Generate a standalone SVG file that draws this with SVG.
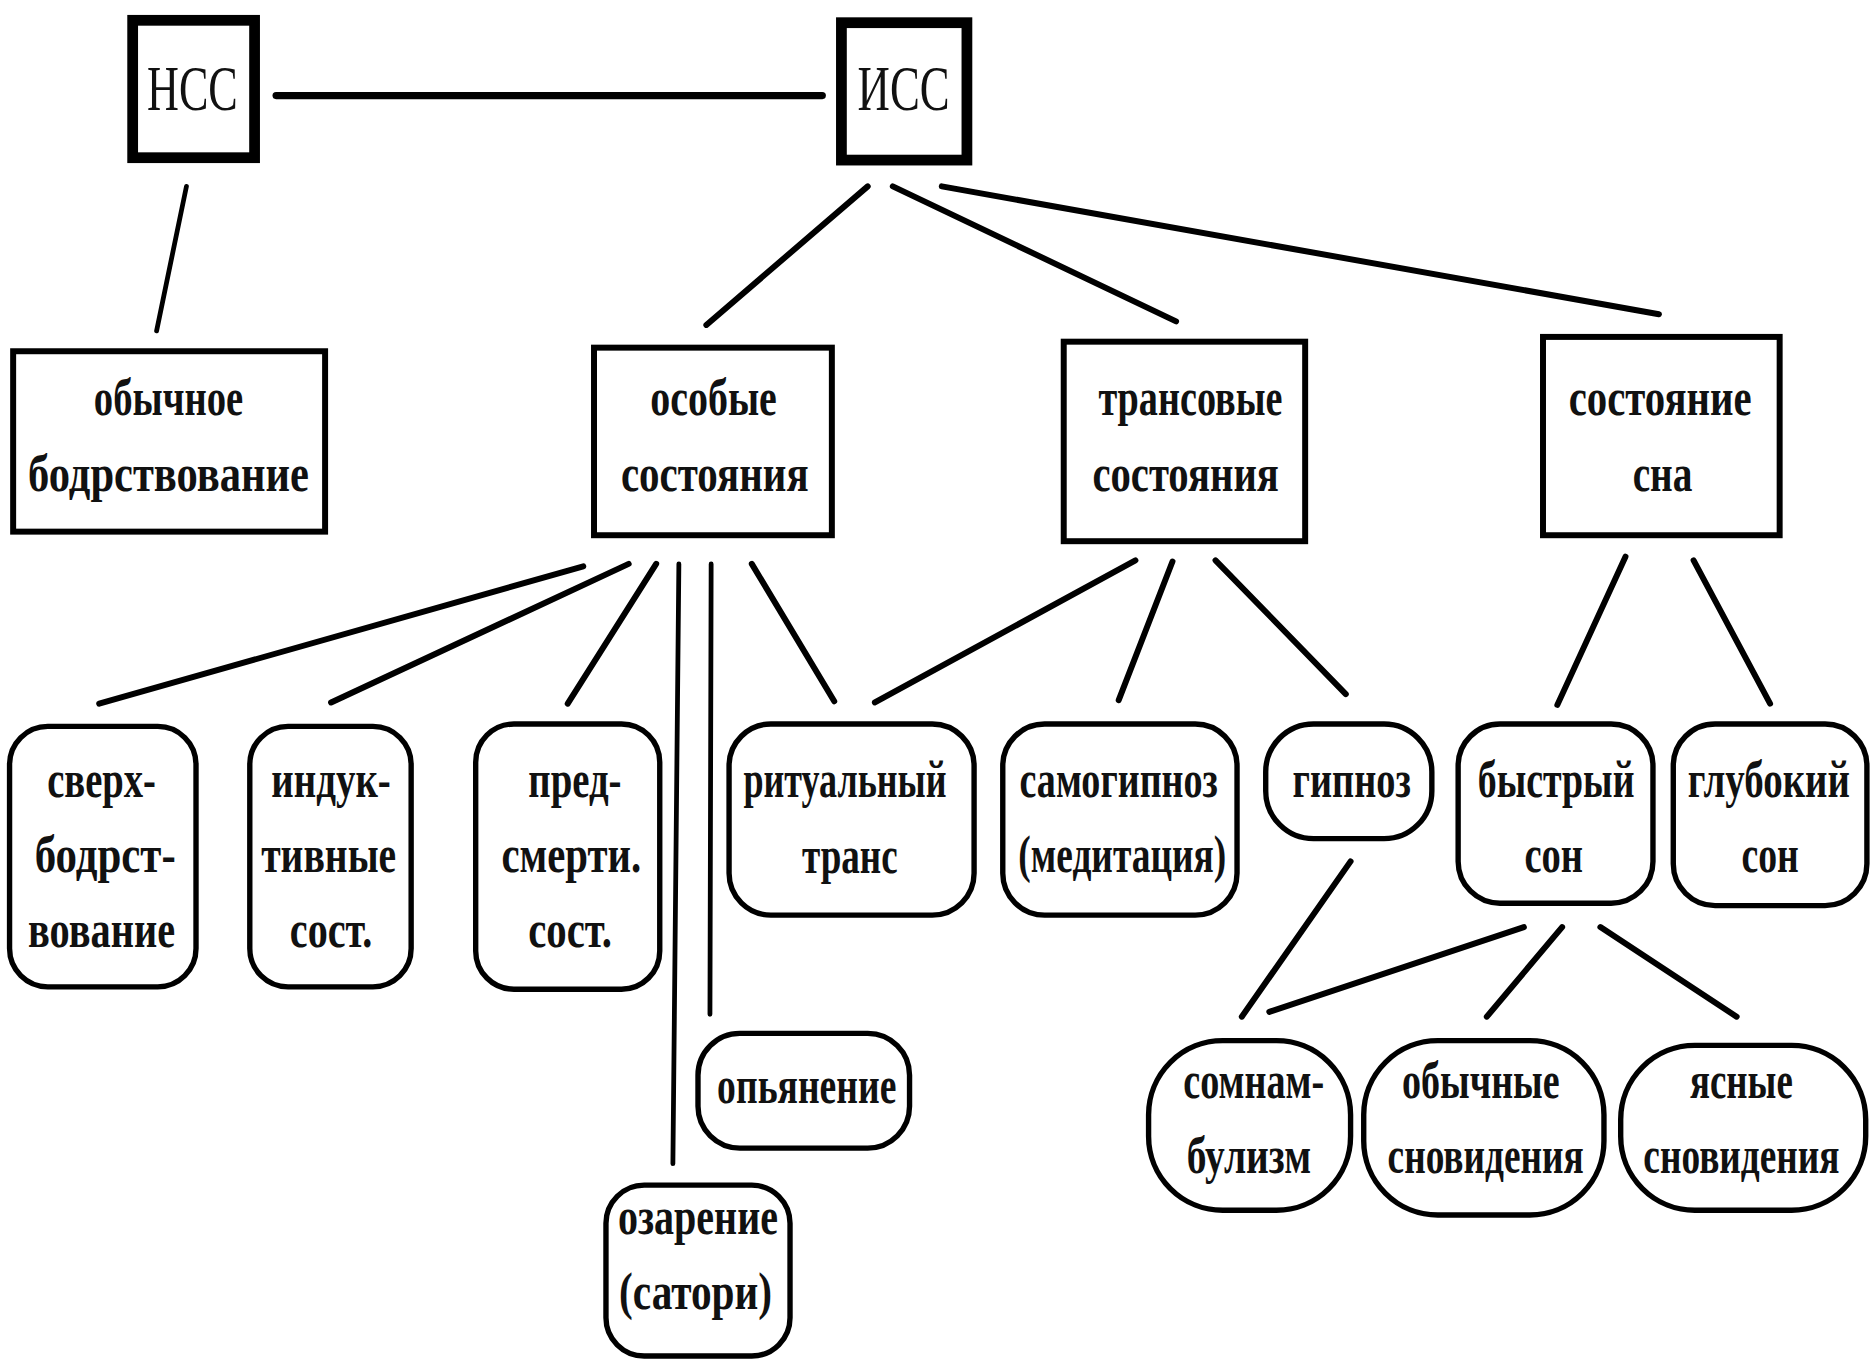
<svg xmlns="http://www.w3.org/2000/svg" width="1874" height="1362" viewBox="0 0 1874 1362">
<style>
.top{fill:#fff;stroke:#000;stroke-width:9}
.sq{fill:#fff;stroke:#000;stroke-width:5}
.rr{fill:#fff;stroke:#000;stroke-width:4.5}
.t{font-family:"Liberation Serif","Times New Roman",serif;font-size:44px;font-weight:bold;fill:#111;text-anchor:middle}
.tt{font-family:"Liberation Serif","Times New Roman",serif;font-size:53px;fill:#111;text-anchor:middle}
.ln{stroke:#000;stroke-width:5;stroke-linecap:round;fill:none}
</style>
<rect x="0" y="0" width="1874" height="1362" fill="#fff"/>
<g transform="scale(1.1952,1.1947)">
<g id="connectors" class="ln">
<line x1="231" y1="80" x2="688" y2="80" stroke-width="6"/>
<line x1="156" y1="156" x2="131" y2="277" stroke-width="4"/>
<line x1="726" y1="156" x2="591" y2="272"/>
<line x1="747" y1="156" x2="984" y2="269"/>
<line x1="788" y1="156" x2="1388" y2="263"/>
<line x1="488" y1="474" x2="83" y2="589"/>
<line x1="526" y1="472" x2="277" y2="588"/>
<line x1="549" y1="472" x2="475" y2="589"/>
<line x1="568" y1="472" x2="563" y2="974" stroke-width="4"/>
<line x1="595" y1="472" x2="594" y2="849" stroke-width="4"/>
<line x1="629" y1="472" x2="698" y2="587"/>
<line x1="950" y1="469" x2="732" y2="588"/>
<line x1="981" y1="470" x2="936" y2="586"/>
<line x1="1017" y1="469" x2="1126" y2="581"/>
<line x1="1360" y1="466" x2="1303" y2="590"/>
<line x1="1417" y1="469" x2="1481" y2="589"/>
<line x1="1130" y1="721" x2="1039" y2="851"/>
<line x1="1275" y1="776" x2="1062" y2="847"/>
<line x1="1307" y1="776" x2="1244" y2="851"/>
<line x1="1339" y1="776" x2="1453" y2="851"/>
</g>
<g id="nss"><rect class="top" x="111" y="17" width="102" height="115"/><text class="tt" x="161" y="92" textLength="76" lengthAdjust="spacingAndGlyphs">НСС</text></g>
<g id="iss"><rect class="top" x="704" y="19" width="105" height="115"/><text class="tt" x="756" y="92" textLength="77" lengthAdjust="spacingAndGlyphs">ИСС</text></g>
<g id="obychnoe"><rect class="sq" x="11" y="294" width="261" height="151"/><text class="t" x="141" y="347" textLength="125" lengthAdjust="spacingAndGlyphs">обычное</text><text class="t" x="141" y="411" textLength="235" lengthAdjust="spacingAndGlyphs">бодрствование</text></g>
<g id="osobye"><rect class="sq" x="497" y="291" width="199" height="157"/><text class="t" x="597" y="347" textLength="106" lengthAdjust="spacingAndGlyphs">особые</text><text class="t" x="598" y="411" textLength="157" lengthAdjust="spacingAndGlyphs">состояния</text></g>
<g id="transovye"><rect class="sq" x="890" y="286" width="202" height="167"/><text class="t" x="996" y="347" textLength="154" lengthAdjust="spacingAndGlyphs">трансовые</text><text class="t" x="992" y="411" textLength="156" lengthAdjust="spacingAndGlyphs">состояния</text></g>
<g id="sna"><rect class="sq" x="1291" y="282" width="198" height="166"/><text class="t" x="1389" y="347" textLength="153" lengthAdjust="spacingAndGlyphs">состояние</text><text class="t" x="1391" y="411" textLength="50" lengthAdjust="spacingAndGlyphs">сна</text></g>
<g id="sverkh"><rect class="rr" x="8" y="608" width="156" height="218" rx="32"/><text class="t" x="85" y="667" textLength="91" lengthAdjust="spacingAndGlyphs">сверх-</text><text class="t" x="88" y="730" textLength="118" lengthAdjust="spacingAndGlyphs">бодрст-</text><text class="t" x="85" y="793" textLength="123" lengthAdjust="spacingAndGlyphs">вование</text></g>
<g id="induk"><rect class="rr" x="209" y="608" width="135" height="218" rx="32"/><text class="t" x="277" y="667" textLength="100" lengthAdjust="spacingAndGlyphs">индук-</text><text class="t" x="275" y="730" textLength="113" lengthAdjust="spacingAndGlyphs">тивные</text><text class="t" x="277" y="793" textLength="69" lengthAdjust="spacingAndGlyphs">сост.</text></g>
<g id="predsmert"><rect class="rr" x="398" y="606" width="154" height="222" rx="32"/><text class="t" x="481" y="667" textLength="78" lengthAdjust="spacingAndGlyphs">пред-</text><text class="t" x="478" y="730" textLength="117" lengthAdjust="spacingAndGlyphs">смерти.</text><text class="t" x="477" y="793" textLength="70" lengthAdjust="spacingAndGlyphs">сост.</text></g>
<g id="ritual"><rect class="rr" x="610" y="606" width="205" height="160" rx="35"/><text class="t" x="707" y="667" textLength="170" lengthAdjust="spacingAndGlyphs">ритуальный</text><text class="t" x="711" y="731" textLength="80" lengthAdjust="spacingAndGlyphs">транс</text></g>
<g id="samogipnoz"><rect class="rr" x="839" y="606" width="196" height="160" rx="35"/><text class="t" x="936" y="667" textLength="166" lengthAdjust="spacingAndGlyphs">самогипноз</text><text class="t" x="939" y="730" textLength="174" lengthAdjust="spacingAndGlyphs">(медитация)</text></g>
<g id="gipnoz"><rect class="rr" x="1059" y="606" width="139" height="96" rx="40"/><text class="t" x="1131" y="667" textLength="99" lengthAdjust="spacingAndGlyphs">гипноз</text></g>
<g id="bystryi"><rect class="rr" x="1220" y="606" width="163" height="150" rx="35"/><text class="t" x="1302" y="667" textLength="131" lengthAdjust="spacingAndGlyphs">быстрый</text><text class="t" x="1300" y="730" textLength="49" lengthAdjust="spacingAndGlyphs">сон</text></g>
<g id="glubokii"><rect class="rr" x="1400" y="606" width="162" height="152" rx="35"/><text class="t" transform="translate(1480,667) scale(0.74,1)" x="0" y="0">глубокий</text><text class="t" x="1481" y="730" textLength="48" lengthAdjust="spacingAndGlyphs">сон</text></g>
<g id="opyanenie"><rect class="rr" x="584" y="865" width="177" height="96" rx="35"/><text class="t" x="675" y="923" textLength="150" lengthAdjust="spacingAndGlyphs">опьянение</text></g>
<g id="ozarenie"><rect class="rr" x="507" y="992" width="154" height="143" rx="32"/><text class="t" x="584" y="1033" textLength="134" lengthAdjust="spacingAndGlyphs">озарение</text><text class="t" x="582" y="1096" textLength="128" lengthAdjust="spacingAndGlyphs">(сатори)</text></g>
<g id="somnambulizm"><rect class="rr" x="961" y="871" width="169" height="142" rx="62"/><text class="t" x="1049" y="919" textLength="118" lengthAdjust="spacingAndGlyphs">сомнам-</text><text class="t" x="1045" y="982" textLength="104" lengthAdjust="spacingAndGlyphs">булизм</text></g>
<g id="obychnye"><rect class="rr" x="1141" y="871" width="201" height="146" rx="62"/><text class="t" x="1239" y="919" textLength="132" lengthAdjust="spacingAndGlyphs">обычные</text><text class="t" transform="translate(1243,982) scale(0.71,1)" x="0" y="0">сновидения</text></g>
<g id="yasnye"><rect class="rr" x="1356" y="875" width="205" height="138" rx="62"/><text class="t" x="1457" y="919" textLength="86" lengthAdjust="spacingAndGlyphs">ясные</text><text class="t" transform="translate(1457,982) scale(0.71,1)" x="0" y="0">сновидения</text></g>
</g>
</svg>
